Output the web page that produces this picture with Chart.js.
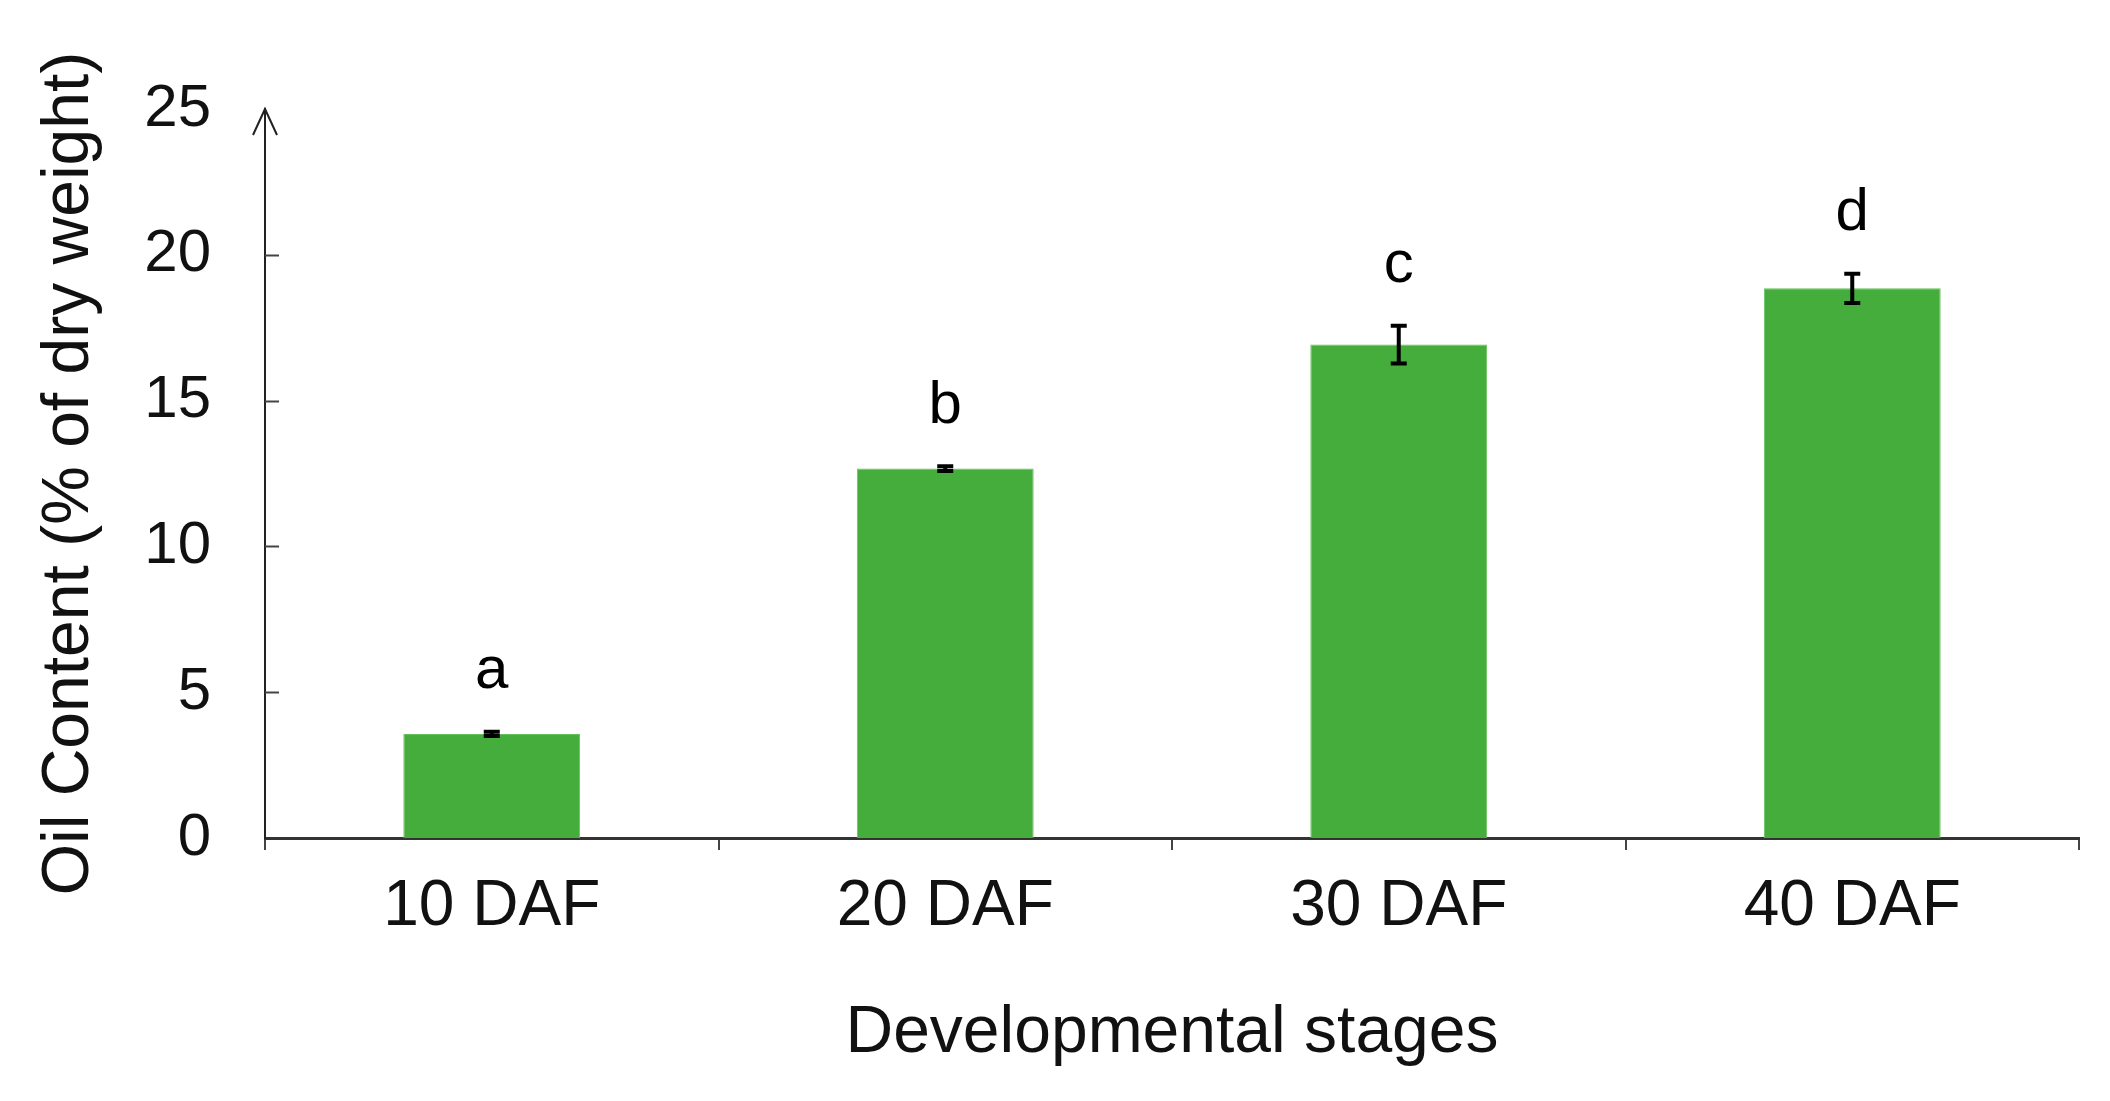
<!DOCTYPE html>
<html>
<head>
<meta charset="utf-8">
<script src="https://cdn.jsdelivr.net/npm/chart.js@4/dist/chart.umd.min.js"></script>
<style>
  html, body { margin: 0; padding: 0; background: #fff; }
  #wrap { width: 2110px; height: 1101px; }
</style>
</head>
<body>
<div id="wrap"><canvas id="myChart" width="2110" height="1101"></canvas></div>
<script>
// data
var stages = ['10 DAF', '20 DAF', '30 DAF', '40 DAF'];
var oilContent = [3.57, 12.67, 16.92, 18.85];
var oilError = [0.07, 0.08, 0.65, 0.5];
var groupLetters = ['a', 'b', 'c', 'd'];
var yTickValues = [0, 5, 10, 15, 20, 25];

var FONT = '"Liberation Sans", Arial, sans-serif';

// error bars, significance letters, inner y ticks and axis arrow
var extras = {
  id: 'extras',
  afterDatasetsDraw: function(chart) {
    var ctx = chart.ctx;
    var x = chart.scales.x;
    var y = chart.scales.y;
    var area = chart.chartArea;
    ctx.save();

    // y tick marks pointing inward
    ctx.strokeStyle = '#444';
    ctx.lineWidth = 2;
    for (var t = 0; t < yTickValues.length; t++) {
      var v = yTickValues[t];
      if (v === 0 || v === y.max) continue;
      var py = Math.round(y.getPixelForValue(v)) + 0.5;
      ctx.beginPath();
      ctx.moveTo(area.left, py);
      ctx.lineTo(area.left + 14, py);
      ctx.stroke();
    }

    // arrow at the top of the y axis
    ctx.strokeStyle = '#222';
    ctx.lineWidth = 2;
    ctx.beginPath();
    ctx.moveTo(area.left - 12, area.top + 26);
    ctx.lineTo(area.left, area.top);
    ctx.lineTo(area.left + 12, area.top + 26);
    ctx.stroke();

    // error bars + letters
    ctx.strokeStyle = '#000';
    ctx.fillStyle = '#000';
    ctx.font = '60px ' + FONT;
    ctx.textAlign = 'center';
    ctx.textBaseline = 'middle';
    for (var i = 0; i < oilContent.length; i++) {
      var cx = x.getPixelForValue(i);
      var hi = y.getPixelForValue(oilContent[i] + oilError[i]);
      var lo = y.getPixelForValue(oilContent[i] - oilError[i]);
      ctx.lineWidth = 4;
      ctx.beginPath();
      ctx.moveTo(cx, hi);
      ctx.lineTo(cx, lo);
      ctx.moveTo(cx - 8, hi);
      ctx.lineTo(cx + 8, hi);
      ctx.moveTo(cx - 8, lo);
      ctx.lineTo(cx + 8, lo);
      ctx.stroke();
      ctx.fillText(groupLetters[i], cx, hi - 60);
    }
    ctx.restore();
  }
};

var ctx = document.getElementById('myChart');
var myChart = new Chart(ctx, {
  type: 'bar',
  data: {
    labels: stages,
    datasets: [{
      label: 'Oil content',
      data: oilContent,
      backgroundColor: '#45ad3b',
      borderColor: '#66c05c',
      borderWidth: 1,
      categoryPercentage: 1.0,
      barPercentage: 0.39
    }]
  },
  options: {
    responsive: false,
    animation: false,
    devicePixelRatio: 1,
    layout: { padding: { left: 0, top: 109, right: 31, bottom: 0 } },
    plugins: {
      legend: { display: false },
      tooltip: { enabled: false }
    },
    scales: {
      x: {
        afterFit: function(s) { s.height = 263; },
        grid: {
          display: true,
          drawOnChartArea: false,
          offset: true,
          tickLength: 12,
          color: '#444',
          lineWidth: 2
        },
        border: { display: true, color: '#333', width: 3 },
        ticks: {
          color: '#111',
          padding: 19,
          font: { family: FONT, size: 64 }
        },
        title: {
          display: true,
          text: 'Developmental stages',
          color: '#111',
          font: { family: FONT, size: 66 },
          padding: { top: 0, bottom: 28 }
        }
      },
      y: {
        min: 0,
        max: 25,
        afterFit: function(s) { s.width = 265; },
        afterBuildTicks: function(s) {
          s.ticks = yTickValues.map(function(v) { return { value: v }; });
        },
        grid: { display: false, drawTicks: false, tickLength: 0 },
        border: { display: true, color: '#222', width: 2 },
        ticks: {
          color: '#111',
          padding: 54,
          font: { family: FONT, size: 60 }
        },
        title: {
          display: true,
          text: 'Oil Content (% of dry weight)',
          color: '#111',
          font: { family: FONT, size: 66 },
          padding: { top: 30, bottom: 0 }
        }
      }
    }
  },
  plugins: [extras]
});
</script>
</body>
</html>
